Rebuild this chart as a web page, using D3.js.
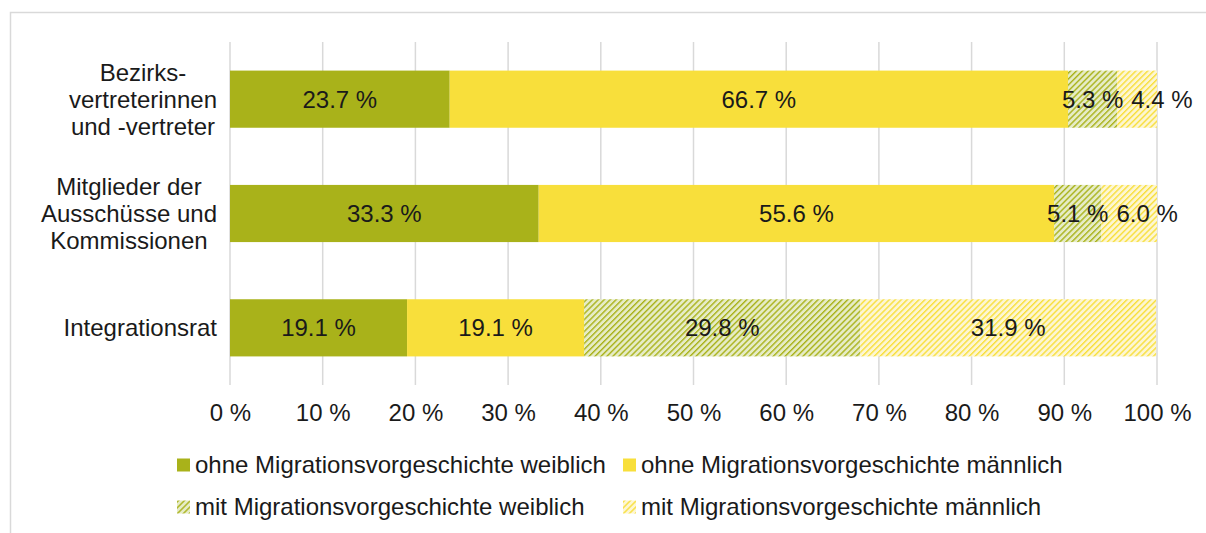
<!DOCTYPE html>
<html lang="de">
<head>
<meta charset="UTF-8" />
<script src="https://d3js.org/d3.v7.min.js"></script>
<title>Chart</title>
<style>
body { margin:0; background:#fff; }
text { font-family: "Liberation Sans", Arial, sans-serif; fill:#1a1a1a; }
</style>
</head>
<body>
<script type="text/javascript">
var categories = [
  ["Bezirks-", "vertreterinnen", "und -vertreter"],
  ["Mitglieder der", "Ausschüsse und", "Kommissionen"],
  ["Integrationsrat"]
];
var seriesNames = [
  "ohne Migrationsvorgeschichte weiblich",
  "ohne Migrationsvorgeschichte männlich",
  "mit Migrationsvorgeschichte weiblich",
  "mit Migrationsvorgeschichte männlich"
];
var ohneW = [23.7, 33.3, 19.1];
var ohneM = [66.7, 55.6, 19.1];
var mitW = [5.3, 5.1, 29.8];
var mitM = [4.4, 6.0, 31.9];
var xTicks = [0, 10, 20, 30, 40, 50, 60, 70, 80, 90, 100];

var W = 1206, H = 533, FS = 24;
var svg = d3.select("body").append("svg").attr("width", W).attr("height", H);

// frame
svg.append("rect").attr("x", 10.5).attr("y", 12.5).attr("width", 1210).attr("height", 540)
  .attr("fill", "none").attr("stroke", "#d9d9d9").attr("stroke-width", 1.5);

var defs = svg.append("defs");
function hatch(id, bg, fg) {
  var p = defs.append("pattern").attr("id", id).attr("patternUnits", "userSpaceOnUse")
    .attr("width", 4.2).attr("height", 4.2).attr("patternTransform", "rotate(45)");
  p.append("rect").attr("width", 4.2).attr("height", 4.2).attr("fill", bg);
  p.append("rect").attr("width", 1.4).attr("height", 4.2).attr("fill", fg);
}
hatch("hw", "#e6ecc6", "#a9b21a");
hatch("hm", "#fdf6d2", "#f8df3b");
var fills = ["#a9b21a", "#f8df3b", "url(#hw)", "url(#hm)"];

var x = d3.scaleLinear().domain([0, 100]).range([230, 1157]);
var y = d3.scaleBand().domain(d3.range(categories.length)).range([42, 385])
  .paddingInner(0.5).paddingOuter(0.25);

// gridlines
svg.append("g").selectAll("line").data(xTicks).enter().append("line")
  .attr("x1", function(d){ return x(d); }).attr("x2", function(d){ return x(d); })
  .attr("y1", 42).attr("y2", 385).attr("stroke", "#d9d9d9").attr("stroke-width", 1.5);

var axis = svg.append("g").attr("transform", "translate(0,385)")
  .call(d3.axisBottom(x).tickValues(xTicks).tickSize(0).tickPadding(19).tickFormat(function(d){ return d + " %"; }));
axis.select(".domain").remove();
axis.selectAll("text").attr("font-size", FS).attr("font-family", "Liberation Sans, Arial, sans-serif").attr("fill", "#1a1a1a");

var rows = categories.map(function(c, i){ return [ohneW[i], ohneM[i], mitW[i], mitM[i]]; });
var stackData = rows.map(function(r, i){
  var o = {idx: i};
  r.forEach(function(v, k){ o["s" + k] = v; });
  return o;
});
var stack = d3.stack().keys(["s0", "s1", "s2", "s3"])(stackData);

stack.forEach(function(layer, k){
  svg.append("g").selectAll("rect").data(layer).enter().append("rect")
    .attr("x", function(d){ return x(d[0]); })
    .attr("width", function(d){ return x(Math.min(d[1], 100)) - x(d[0]); })
    .attr("y", function(d, i){ return y(i); })
    .attr("height", y.bandwidth())
    .attr("fill", fills[k]);
});

// data labels with simple collision shifting
var lg = svg.append("g");
rows.forEach(function(r, i){
  var prevRight = -1e9;
  stack.forEach(function(layer, k){
    var d = layer[i];
    var cx = (x(d[0]) + x(Math.min(d[1], 100))) / 2;
    var t = lg.append("text").attr("font-size", FS).attr("text-anchor", "middle")
      .attr("y", y(i) + y.bandwidth() / 2).attr("dy", "0.35em")
      .text(r[k].toFixed(1) + " %");
    var w = t.node().getComputedTextLength();
    if (cx - w / 2 < prevRight + 8) cx = prevRight + 8 + w / 2;
    t.attr("x", cx);
    prevRight = cx + w / 2;
  });
});

// category labels
categories.forEach(function(lines, i){
  var g = svg.append("g");
  var cy = y(i) + y.bandwidth() / 2;
  var lh = 27;
  var texts = lines.map(function(l, j){
    return g.append("text").attr("font-size", FS).attr("text-anchor", "middle")
      .attr("y", cy + (j - (lines.length - 1) / 2) * lh).attr("dy", "0.35em").text(l);
  });
  var maxW = d3.max(texts, function(t){ return t.node().getComputedTextLength(); });
  texts.forEach(function(t){ t.attr("x", 217 - maxW / 2); });
});

// legend
var legPos = [[177, 465], [623, 465], [177, 507], [623, 507]];
seriesNames.forEach(function(n, k){
  var g = svg.append("g").attr("transform", "translate(" + legPos[k][0] + "," + legPos[k][1] + ")");
  g.append("rect").attr("x", 0).attr("y", -6.5).attr("width", 13).attr("height", 13).attr("fill", fills[k]);
  g.append("text").attr("x", 18).attr("dy", "0.35em").attr("font-size", FS).text(n);
});
</script>
</body>
</html>
